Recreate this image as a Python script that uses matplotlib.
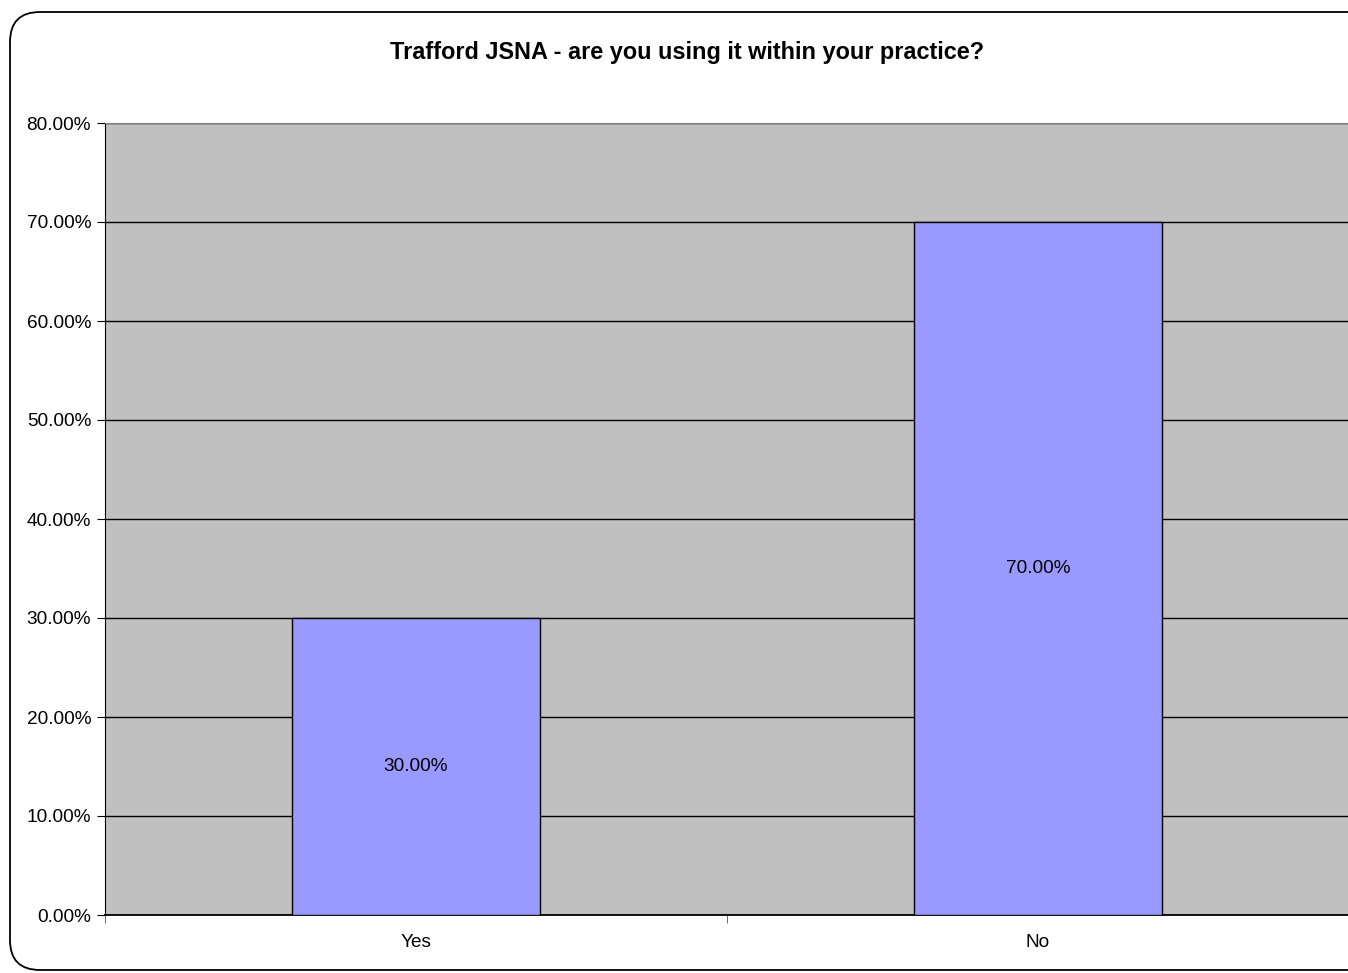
import matplotlib.pyplot as plt
from matplotlib.patches import FancyBboxPatch
from matplotlib.ticker import FuncFormatter

# Data
categories = ['Yes', 'No']
shares = [30.0, 70.0]
y_ticks = [0, 10, 20, 30, 40, 50, 60, 70, 80]

plt.rcParams['font.family'] = ['Liberation Sans', 'DejaVu Sans']

fig = plt.figure(figsize=(13.48, 9.73), dpi=100)

# Rounded outer chart border (runs off the right edge like the original)
W, H = 1348, 973
frame = FancyBboxPatch((0.10, 0.03), 14.0, 9.58,
                       boxstyle='round,pad=0,rounding_size=0.3',
                       transform=fig.dpi_scale_trans, facecolor='none',
                       edgecolor='black', linewidth=1.3, zorder=5)
fig.patches.append(frame)

ax = fig.add_axes([105 / W, 58 / H, 1244 / W, 792 / H])
ax.set_facecolor('#C0C0C0')

x = range(len(categories))
bars = ax.bar(x, shares, width=0.4, color='#9999FF', edgecolor='black',
              linewidth=1, zorder=3)

for xi, v in zip(x, shares):
    ax.text(xi, v / 2, f'{v:.2f}%', ha='center', va='center', fontsize=13.7, zorder=4)

ax.set_xlim(-0.5, 1.5)
ax.set_ylim(0, 80)
ax.set_yticks(y_ticks)
ax.yaxis.set_major_formatter(FuncFormatter(lambda v, p: f'{v:.2f}%'))
ax.set_xticks(list(x))
ax.set_xticklabels(categories)
ax.set_xticks([-0.5, 0.5], minor=True)
ax.tick_params(axis='x', which='major', length=0, pad=14, labelsize=13.7)
ax.tick_params(axis='x', which='minor', length=6, direction='out', color='#555555')
ax.tick_params(axis='y', length=6, direction='out', labelsize=13.7, pad=4)

ax.grid(axis='y', color='black', linewidth=1, zorder=1)
ax.set_axisbelow(True)

ax.spines['right'].set_visible(False)
ax.spines['top'].set_color('#808080')
ax.spines['left'].set_color('black')
ax.spines['bottom'].set_color('black')
ax.spines['bottom'].set_linewidth(1.3)

fig.text(687.5 / W, 1 - 52 / H, 'Trafford JSNA - are you using it within your practice?',
         ha='center', va='center', fontsize=16.9, fontweight='bold')

fig.savefig('out.png', dpi=100)
